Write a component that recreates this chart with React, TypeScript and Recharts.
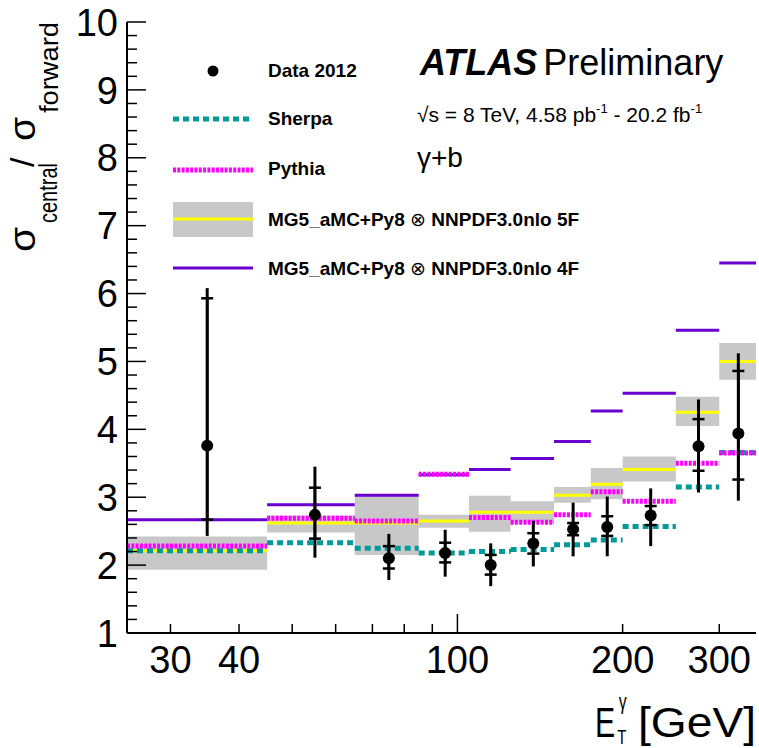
import React from "react";
import { ComposedChart, XAxis, YAxis, Line, Area, Scatter, ErrorBar } from "recharts";

// E_T^gamma bin edges [GeV]
const binEdges = [25, 45, 65, 85, 105, 125, 150, 175, 200, 250, 300, 350];

// Data 2012, plotted at the bin centres
const dataEt = [35, 55, 75, 95, 115, 137.5, 162.5, 187.5, 225, 275, 325];
const dataRatio = [3.76, 2.74, 2.1, 2.18, 2.0, 2.32, 2.53, 2.56, 2.73, 3.75, 3.94];
// [down, up]
const totalErr = [
  [1.33, 2.32], [0.63, 0.71], [0.32, 0.36], [0.35, 0.34], [0.31, 0.32], [0.34, 0.33],
  [0.4, 0.39], [0.43, 0.45], [0.45, 0.4], [0.68, 0.69], [0.99, 1.18],
];
const statErr = [
  [1.09, 2.17], [0.35, 0.4], [0.15, 0.18], [0.14, 0.15], [0.14, 0.15], [0.15, 0.15],
  [0.09, 0.09], [0.13, 0.16], [0.14, 0.14], [0.36, 0.4], [0.68, 0.92],
];

// predictions, one value per bin
const sherpa = [2.21, 2.33, 2.25, 2.18, 2.2, 2.23, 2.3, 2.37, 2.57, 3.15, 3.66];
const pythia = [2.28, 2.69, 2.65, 3.34, 2.7, 2.63, 2.74, 3.08, 2.94, 3.5, 3.65];
const mg5Nominal = [2.21, 2.62, 2.62, 2.65, 2.78, 2.78, 3.03, 3.19, 3.41, 4.25, 5.0];
const mg5Low = [1.93, 2.48, 2.15, 2.55, 2.49, 2.62, 2.92, 2.97, 3.23, 4.05, 4.73];
const mg5High = [2.42, 2.73, 3.03, 2.74, 3.02, 2.94, 3.15, 3.43, 3.6, 4.48, 5.27];
const mg54F = [2.67, 2.89, 3.03, 3.33, 3.41, 3.57, 3.82, 4.27, 4.53, 5.46, 6.45];

const xTicks = [30, 40, 50, 60, 70, 80, 90, 100, 200, 300];
const xTickLabels = [30, 40, 100, 200, 300];
const xMajorTicks = [100];
const yTickLabels = [1, 2, 3, 4, 5, 6, 7, 8, 9, 10];
const yTicks: number[] = [];
for (let t = 10; t <= 100; t += 2) yTicks.push(t / 10);

const FONT = "'Liberation Sans', Arial, Helvetica, sans-serif";
const TEAL = "#009a9a";
const MAGENTA = "#ff00ff";
const VIOLET = "#6a00d0";
const YELLOW = "#ffff00";
const BAND = "#c8c8c8";

// horizontal segment per bin, broken between bins
const steps = (vals: number[]) =>
  vals.flatMap((v, i) => [
    { x: binEdges[i], y: v },
    { x: binEdges[i + 1], y: v },
    { x: binEdges[i + 1], y: null },
  ]);

const bandRows = mg5Low.flatMap((lo, i) => [
  { x: binEdges[i], band: [lo, mg5High[i]] },
  { x: binEdges[i + 1], band: [lo, mg5High[i]] },
]);

const points = dataEt.map((x, i) => ({
  x,
  y: dataRatio[i],
  tot: totalErr[i],
  stat: statErr[i],
}));

const isInt = (v: number) => Math.abs(v - Math.round(v)) < 1e-6;

function BottomTick({ x, y, payload }: any) {
  const v = payload.value;
  const len = xMajorTicks.includes(v) ? 19 : 9;
  return (
    <g>
      <line x1={x} x2={x} y1={y} y2={y - len} stroke="#000" strokeWidth={1.5} />
      {xTickLabels.includes(v) && (
        <text x={x} y={y + 40} textAnchor="middle" fontSize={38} fontFamily={FONT} fill="#000">
          {v}
        </text>
      )}
    </g>
  );
}

function TopTick({ x, y, payload }: any) {
  const len = xMajorTicks.includes(payload.value) ? 19 : 9;
  return <line x1={x} x2={x} y1={y} y2={y + len} stroke="#000" strokeWidth={1.5} />;
}

function LeftTick({ x, y, payload }: any) {
  const v = payload.value;
  const major = isInt(v);
  return (
    <g>
      <line x1={x} x2={x + (major ? 19 : 10)} y1={y} y2={y} stroke="#000" strokeWidth={1.5} />
      {major && yTickLabels.includes(Math.round(v)) && (
        <text x={x - 9} y={y} dy="0.36em" textAnchor="end" fontSize={38} fontFamily={FONT} fill="#000">
          {Math.round(v)}
        </text>
      )}
    </g>
  );
}

function RightTick({ x, y, payload }: any) {
  const len = isInt(payload.value) ? 19 : 10;
  return <line x1={x} x2={x - len} y1={y} y2={y} stroke="#000" strokeWidth={1.5} />;
}

const DataDot = (p: any) => <circle cx={p.cx} cy={p.cy} r={6} fill="#000" />;

function Overlay() {
  const legendText = { fontSize: 19, fontWeight: 700, fontFamily: FONT, fill: "#000" } as const;
  return (
    <svg
      width={759}
      height={748}
      style={{ position: "absolute", left: 0, top: 0, pointerEvents: "none" }}
    >
      {/* legend */}
      <circle cx={213} cy={71} r={5.5} fill="#000" />
      <text x={268} y={77} {...legendText}>Data 2012</text>
      <line x1={173} x2={253} y1={119} y2={119} stroke={TEAL} strokeWidth={5} strokeDasharray="6 4" />
      <text x={268} y={125} {...legendText}>Sherpa</text>
      <line x1={173} x2={253} y1={170} y2={170} stroke={MAGENTA} strokeWidth={5} strokeDasharray="3 1.3" />
      <text x={268} y={175} {...legendText}>Pythia</text>
      <rect x={173} y={202} width={80} height={35} fill={BAND} />
      <line x1={173} x2={253} y1={219} y2={219} stroke={YELLOW} strokeWidth={3} />
      <text x={268} y={226} {...legendText}>
        MG5_aMC+Py8 <tspan fontWeight={400}>{"\u2297"}</tspan> NNPDF3.0nlo 5F
      </text>
      <line x1={173} x2={253} y1={268} y2={268} stroke={VIOLET} strokeWidth={3} />
      <text x={268} y={275} {...legendText}>
        MG5_aMC+Py8 <tspan fontWeight={400}>{"\u2297"}</tspan> NNPDF3.0nlo 4F
      </text>

      {/* experiment label */}
      <text x={420} y={75} fontSize={36} fontFamily={FONT} fill="#000">
        <tspan fontWeight={700} fontStyle="italic">ATLAS</tspan>
        <tspan dx={6}>Preliminary</tspan>
      </text>
      <text x={417} y={122} fontSize={21} fontFamily={FONT} fill="#000">
        {"\u221As = 8 TeV, 4.58 pb"}
        <tspan fontSize={13} dy={-9}>-1</tspan>
        <tspan dy={9}>{" - 20.2 fb"}</tspan>
        <tspan fontSize={13} dy={-9}>-1</tspan>
      </text>
      <text x={417} y={167} fontSize={28} fontFamily={FONT} fill="#000">
        {"\u03B3+b"}
      </text>

      {/* y title */}
      <g transform="rotate(-90)" fontFamily={FONT} fill="#000">
        <text x={-252} y={35} fontSize={36} textLength={25} lengthAdjust="spacingAndGlyphs">
          {"\u03C3"}
        </text>
        <text x={-223} y={57} fontSize={26} textLength={60} lengthAdjust="spacingAndGlyphs">
          central
        </text>
        <text x={-167} y={34} fontSize={34}>/</text>
        <text x={-141} y={35} fontSize={36} textLength={24} lengthAdjust="spacingAndGlyphs">
          {"\u03C3"}
        </text>
        <text x={-113} y={58} fontSize={26} textLength={91} lengthAdjust="spacingAndGlyphs">
          forward
        </text>
      </g>

      {/* x title: E_T^gamma [GeV] */}
      <text transform="translate(595,737) scale(0.72,1)" fontFamily={FONT} fill="#000">
        <tspan x={0} y={0} fontSize={42}>E</tspan>
        <tspan x={31} y={7} fontSize={21}>T</tspan>
        <tspan x={33} y={-28} fontSize={22}>{"\u03B3"}</tspan>
      </text>
      <text x={638} y={737} fontSize={42} fontFamily={FONT} fill="#000" textLength={118} lengthAdjust="spacingAndGlyphs">
        [GeV]
      </text>
    </svg>
  );
}

export default function App() {
  return (
    <div style={{ position: "absolute", left: 0, top: 0, width: 759, height: 748, background: "#fff" }}>
      <ComposedChart width={759} height={748} margin={{ top: 22, right: 3, bottom: 75, left: 0 }}>
        <XAxis
          dataKey="x"
          type="number"
          scale="log"
          domain={[25, 350]}
          allowDataOverflow
          ticks={xTicks}
          interval={0}
          height={40}
          tickSize={0}
          tickMargin={0}
          tickLine={false}
          axisLine={{ stroke: "#000", strokeWidth: 2 }}
          tick={(p: any) => <BottomTick {...p} />}
        />
        <XAxis
          xAxisId="top"
          orientation="top"
          type="number"
          scale="log"
          domain={[25, 350]}
          allowDataOverflow
          ticks={xTicks}
          interval={0}
          height={0}
          tickSize={0}
          tickMargin={0}
          tickLine={false}
          axisLine={{ stroke: "#000", strokeWidth: 2 }}
          tick={(p: any) => <TopTick {...p} />}
        />
        <YAxis
          type="number"
          domain={[1, 10]}
          allowDataOverflow
          ticks={yTicks}
          interval={0}
          width={127}
          tickSize={0}
          tickMargin={0}
          tickLine={false}
          axisLine={{ stroke: "#000", strokeWidth: 2 }}
          tick={(p: any) => <LeftTick {...p} />}
        />
        <YAxis
          yAxisId="right"
          orientation="right"
          type="number"
          domain={[1, 10]}
          allowDataOverflow
          ticks={yTicks}
          interval={0}
          width={0}
          tickSize={0}
          tickMargin={0}
          tickLine={false}
          axisLine={{ stroke: "#000", strokeWidth: 2 }}
          tick={(p: any) => <RightTick {...p} />}
        />

        <Area
          data={bandRows}
          dataKey="band"
          type="linear"
          fill={BAND}
          fillOpacity={1}
          stroke="none"
          isAnimationActive={false}
          activeDot={false}
        />
        <Line data={steps(mg5Nominal)} dataKey="y" stroke={YELLOW} strokeWidth={3} dot={false} activeDot={false} isAnimationActive={false} />
        <Line data={steps(mg54F)} dataKey="y" stroke={VIOLET} strokeWidth={3} dot={false} activeDot={false} isAnimationActive={false} />
        <Line data={steps(sherpa)} dataKey="y" stroke={TEAL} strokeWidth={5} strokeDasharray="6 4" dot={false} activeDot={false} isAnimationActive={false} />
        <Line data={steps(pythia)} dataKey="y" stroke={MAGENTA} strokeWidth={5} strokeDasharray="3 1.3" dot={false} activeDot={false} isAnimationActive={false} />
        <Scatter data={points} dataKey="y" shape={DataDot} isAnimationActive={false}>
          <ErrorBar dataKey="tot" direction="y" width={0} stroke="#000" strokeWidth={3} />
          <ErrorBar dataKey="stat" direction="y" width={6} stroke="#000" strokeWidth={2.5} />
        </Scatter>
      </ComposedChart>
      <Overlay />
    </div>
  );
}
